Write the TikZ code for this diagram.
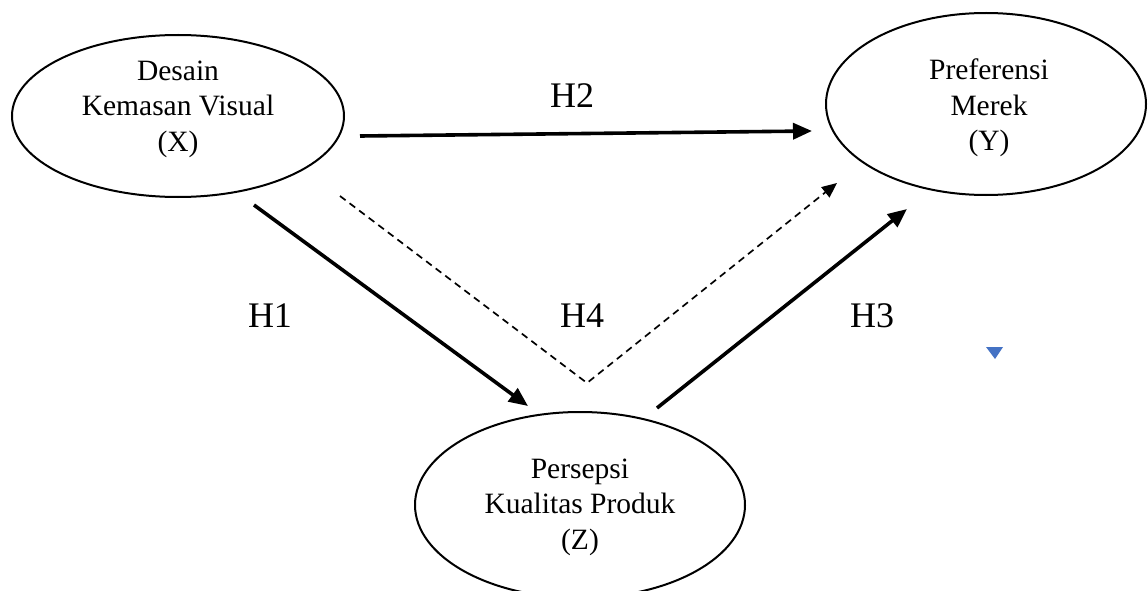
\documentclass[tikz,border=0pt]{standalone}
\usepackage{fontspec}
\setmainfont{Liberation Serif}
\usetikzlibrary{shapes.geometric,arrows.meta}
\definecolor{markblue}{HTML}{4472C4}
\tikzset{
  ell/.style={draw=black, line width=2pt, ellipse, inner sep=0pt},
  txt/.style={align=center, font=\fontsize{29.5}{35.5}\selectfont, inner sep=0pt},
  hlab/.style={font=\fontsize{36}{40}\selectfont, inner sep=0pt},
  solidarrow/.style={line width=3.6pt, -{Triangle[length=19pt,width=16pt]}},
  dasharrow/.style={line width=1.7pt, dash pattern=on 7pt off 5pt, -{Triangle[length=15pt,width=13pt]}}
}
\begin{document}
\begin{tikzpicture}[x=1pt,y=-1pt]
\useasboundingbox (0,0) rectangle (1148,591);
% ellipses
\node[ell, minimum width=332pt, minimum height=162pt] (X) at (178,116) {};
\node[ell, minimum width=320pt, minimum height=182pt] (Y) at (986,104) {};
\node[ell, minimum width=330pt, minimum height=186pt] (Z) at (580,505) {};
% texts
\node[txt] (Xt) at (178,109) {Desain\\Kemasan Visual\\(X)};
\node[txt] (Yt) at (989,108) {Preferensi\\Merek\\(Y)};
\node[txt] (Zt) at (580,507) {Persepsi\\Kualitas Produk\\(Z)};
% connector ends
\coordinate (h2s) at (360,136);
\coordinate (h2e) at (812,131);
\coordinate (h1s) at (254,205);
\coordinate (h1e) at (528,406);
\coordinate (h3s) at (657,408);
\coordinate (h3e) at (907,209);
\coordinate (h4s) at (340,196);
\coordinate (h4m) at (587,383);
\coordinate (h4e) at (837,183);
% connectors
\draw[solidarrow] (h2s) -- (h2e);
\draw[solidarrow] (h1s) -- (h1e);
\draw[solidarrow] (h3s) -- (h3e);
\draw[dasharrow] (h4s) -- (h4m) -- (h4e);
% labels
\node[hlab] (H2) at (572,96) {H2};
\node[hlab] (H1) at (270,316) {H1};
\node[hlab] (H4) at (582,316) {H4};
\node[hlab] (H3) at (872,316) {H3};
% small blue marker
\fill[markblue] (986,347) -- (1003,347) -- (995,359) -- cycle;
\end{tikzpicture}
\end{document}
